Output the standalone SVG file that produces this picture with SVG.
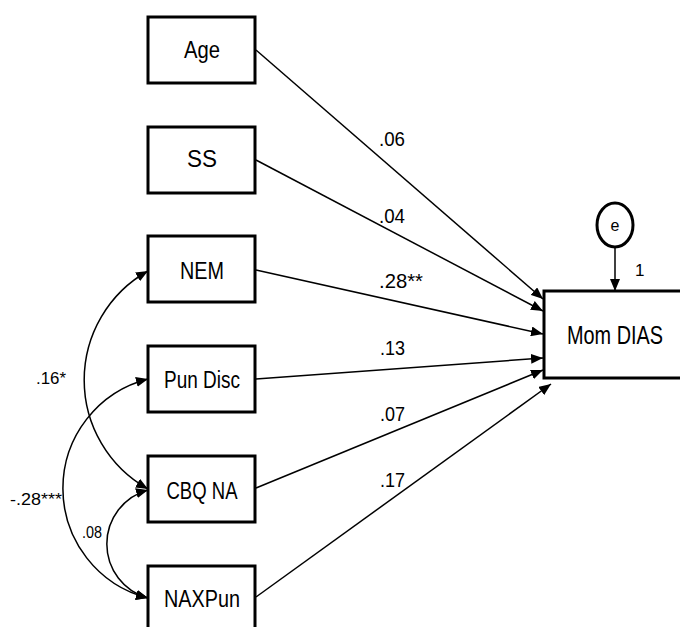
<svg xmlns="http://www.w3.org/2000/svg" width="680" height="627" viewBox="0 0 680 627">
<defs>
<marker id="ah" markerUnits="userSpaceOnUse" markerWidth="12" markerHeight="10" viewBox="0 0 12 10" refX="12" refY="5" orient="auto-start-reverse">
<path d="M0,0 L12,5 L0,10 Z" fill="#000"/>
</marker>
<style>
.box{fill:#fff;stroke:#000;stroke-width:3}
.lbl{font-family:"Liberation Sans",Arial,sans-serif;font-size:23px;fill:#000;text-anchor:middle}
.coef{font-family:"Liberation Sans",Arial,sans-serif;font-size:21px;fill:#000}
.small{font-family:"Liberation Sans",Arial,sans-serif;font-size:16px;fill:#000}
.path{fill:none;stroke:#000;stroke-width:1.5;marker-end:url(#ah)}
.cov{fill:none;stroke:#000;stroke-width:1.5;marker-start:url(#ah);marker-end:url(#ah)}
</style>
</defs>
<rect width="680" height="627" fill="#fff"/>
<g id="connectors">
<line class="path" x1="256" y1="50" x2="543" y2="299"/>
<line class="path" x1="256" y1="160" x2="543" y2="311"/>
<line class="path" x1="256" y1="270" x2="543" y2="334"/>
<line class="path" x1="256" y1="379" x2="543" y2="358"/>
<line class="path" x1="256" y1="488" x2="543" y2="370"/>
<line class="path" x1="256" y1="597" x2="551" y2="384"/>
<line class="path" x1="615" y1="248" x2="615" y2="291"/>
<path class="cov" d="M148,271 A125,125 0 0,0 148,489"/>
<path class="cov" d="M148,379 A113,113 0 0,0 148,598"/>
<path class="cov" d="M148,490 A56,56 0 0,0 148,598"/>
<text class="coef" x="379" y="146" textLength="26" lengthAdjust="spacingAndGlyphs">.06</text>
<text class="coef" x="379" y="223" textLength="26" lengthAdjust="spacingAndGlyphs">.04</text>
<text class="coef" x="379" y="288" textLength="44" lengthAdjust="spacingAndGlyphs">.28**</text>
<text class="coef" x="380" y="355" textLength="25" lengthAdjust="spacingAndGlyphs">.13</text>
<text class="coef" x="380" y="421" textLength="25" lengthAdjust="spacingAndGlyphs">.07</text>
<text class="coef" x="380" y="487" textLength="25" lengthAdjust="spacingAndGlyphs">.17</text>
<text class="small" x="36" y="384" textLength="30" lengthAdjust="spacingAndGlyphs">.16*</text>
<text class="small" x="10" y="505" textLength="52" lengthAdjust="spacingAndGlyphs">-.28***</text>
<text class="small" x="82" y="538" textLength="20" lengthAdjust="spacingAndGlyphs">.08</text>
<text class="small" x="635" y="276" style="font-size:17px">1</text>
</g>
<g id="age"><rect class="box" x="148" y="17" width="107" height="66"/><text class="lbl" x="202" y="58" textLength="36" lengthAdjust="spacingAndGlyphs">Age</text></g>
<g id="ss"><rect class="box" x="148" y="127" width="107" height="66"/><text class="lbl" x="202" y="167" textLength="30" lengthAdjust="spacingAndGlyphs">SS</text></g>
<g id="nem"><rect class="box" x="148" y="236" width="107" height="66"/><text class="lbl" x="202" y="279" textLength="44" lengthAdjust="spacingAndGlyphs">NEM</text></g>
<g id="pundisc"><rect class="box" x="148" y="346" width="107" height="66"/><text class="lbl" x="202" y="388" textLength="76" lengthAdjust="spacingAndGlyphs">Pun Disc</text></g>
<g id="cbqna"><rect class="box" x="148" y="456" width="107" height="66"/><text class="lbl" x="202" y="499" textLength="71" lengthAdjust="spacingAndGlyphs">CBQ NA</text></g>
<g id="naxpun"><rect class="box" x="148" y="566" width="107" height="70"/><text class="lbl" x="202" y="607" textLength="76" lengthAdjust="spacingAndGlyphs">NAXPun</text></g>
<g id="momdias"><rect class="box" x="544" y="291" width="145" height="87"/><text class="lbl" x="615" y="344" style="font-size:25px" textLength="96" lengthAdjust="spacingAndGlyphs">Mom DIAS</text></g>
<g id="e"><ellipse cx="615" cy="225" rx="18" ry="22" fill="#fff" stroke="#000" stroke-width="3"/><text class="small" x="615" y="231" text-anchor="middle" style="font-size:16px">e</text></g>
</svg>
